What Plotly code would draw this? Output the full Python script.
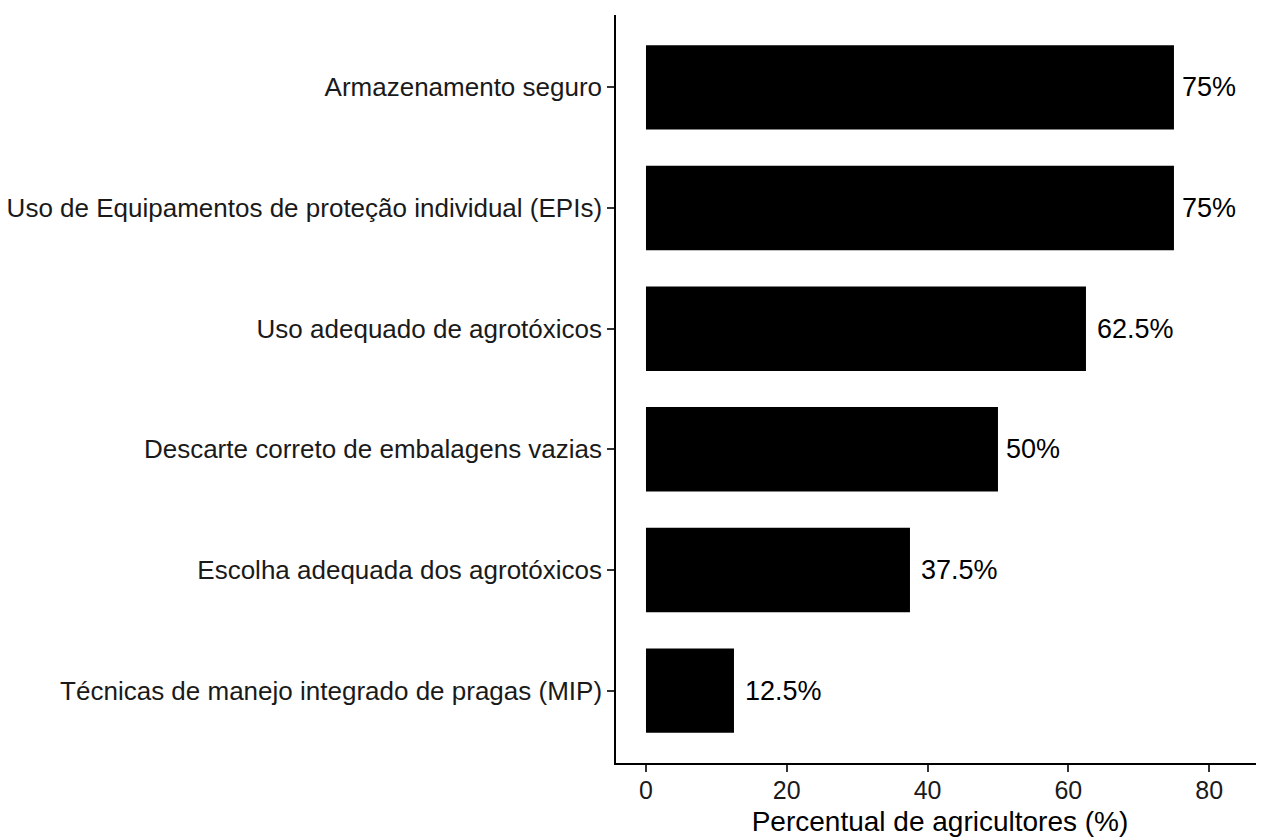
import plotly.graph_objects as go

# bottom to top
praticas = [
    'Técnicas de manejo integrado de pragas (MIP)',
    'Escolha adequada dos agrotóxicos',
    'Descarte correto de embalagens vazias',
    'Uso adequado de agrotóxicos',
    'Uso de Equipamentos de proteção individual (EPIs)',
    'Armazenamento seguro',
]
percentual = [12.5, 37.5, 50, 62.5, 75, 75]
rotulos = ['12.5%', '37.5%', '50%', '62.5%', '75%', '75%']

LABEL_SIZE = 27


def text_width(s, size):
    # rough Arial widths, used for an hjust=-0.1 style gap
    w = {'.': 0.278, '%': 0.889}
    return sum(w.get(c, 0.556) for c in s) * size


fig = go.Figure()

fig.add_trace(go.Bar(
    x=percentual,
    y=praticas,
    orientation='h',
    width=0.7,
    marker=dict(color='black', line=dict(width=0)),
    hoverinfo='skip',
))

for p, v, r in zip(praticas, percentual, rotulos):
    fig.add_annotation(
        x=v, y=p, text=r,
        xanchor='left', yanchor='middle',
        xshift=0.1 * text_width(r, LABEL_SIZE) + 1,
        showarrow=False,
        font=dict(family='Liberation Sans', size=LABEL_SIZE, color='black'),
    )

# the page body adds 8px of margin, so the figure is 8px smaller
fig.update_layout(
    width=1256, height=831,
    margin=dict(l=608, r=0, t=7, b=76),
    plot_bgcolor='white',
    paper_bgcolor='white',
    showlegend=False,
    font=dict(family='Liberation Sans', color='black'),
    xaxis=dict(
        range=[-4.26, 87.79],
        tickvals=[0, 20, 40, 60, 80],
        showgrid=False, zeroline=False,
        showline=True, linecolor='black', linewidth=1.5,
        ticks='outside', ticklen=7, tickwidth=1.5, tickcolor='#333333',
        ticklabelstandoff=-3,
        tickfont=dict(size=25, color='#1a1a1a'),
        title=dict(text='Percentual de agricultores (%)',
                   font=dict(size=28, color='black'), standoff=9),
    ),
    yaxis=dict(
        categoryorder='array', categoryarray=praticas,
        range=[-0.6, 5.6],
        showgrid=False, zeroline=False,
        showline=True, linecolor='black', linewidth=1.5,
        ticks='outside', ticklen=7, tickwidth=1.5, tickcolor='#333333',
        tickfont=dict(size=26, color='#1a1a1a'),
    ),
)

fig.write_html('out.html')
